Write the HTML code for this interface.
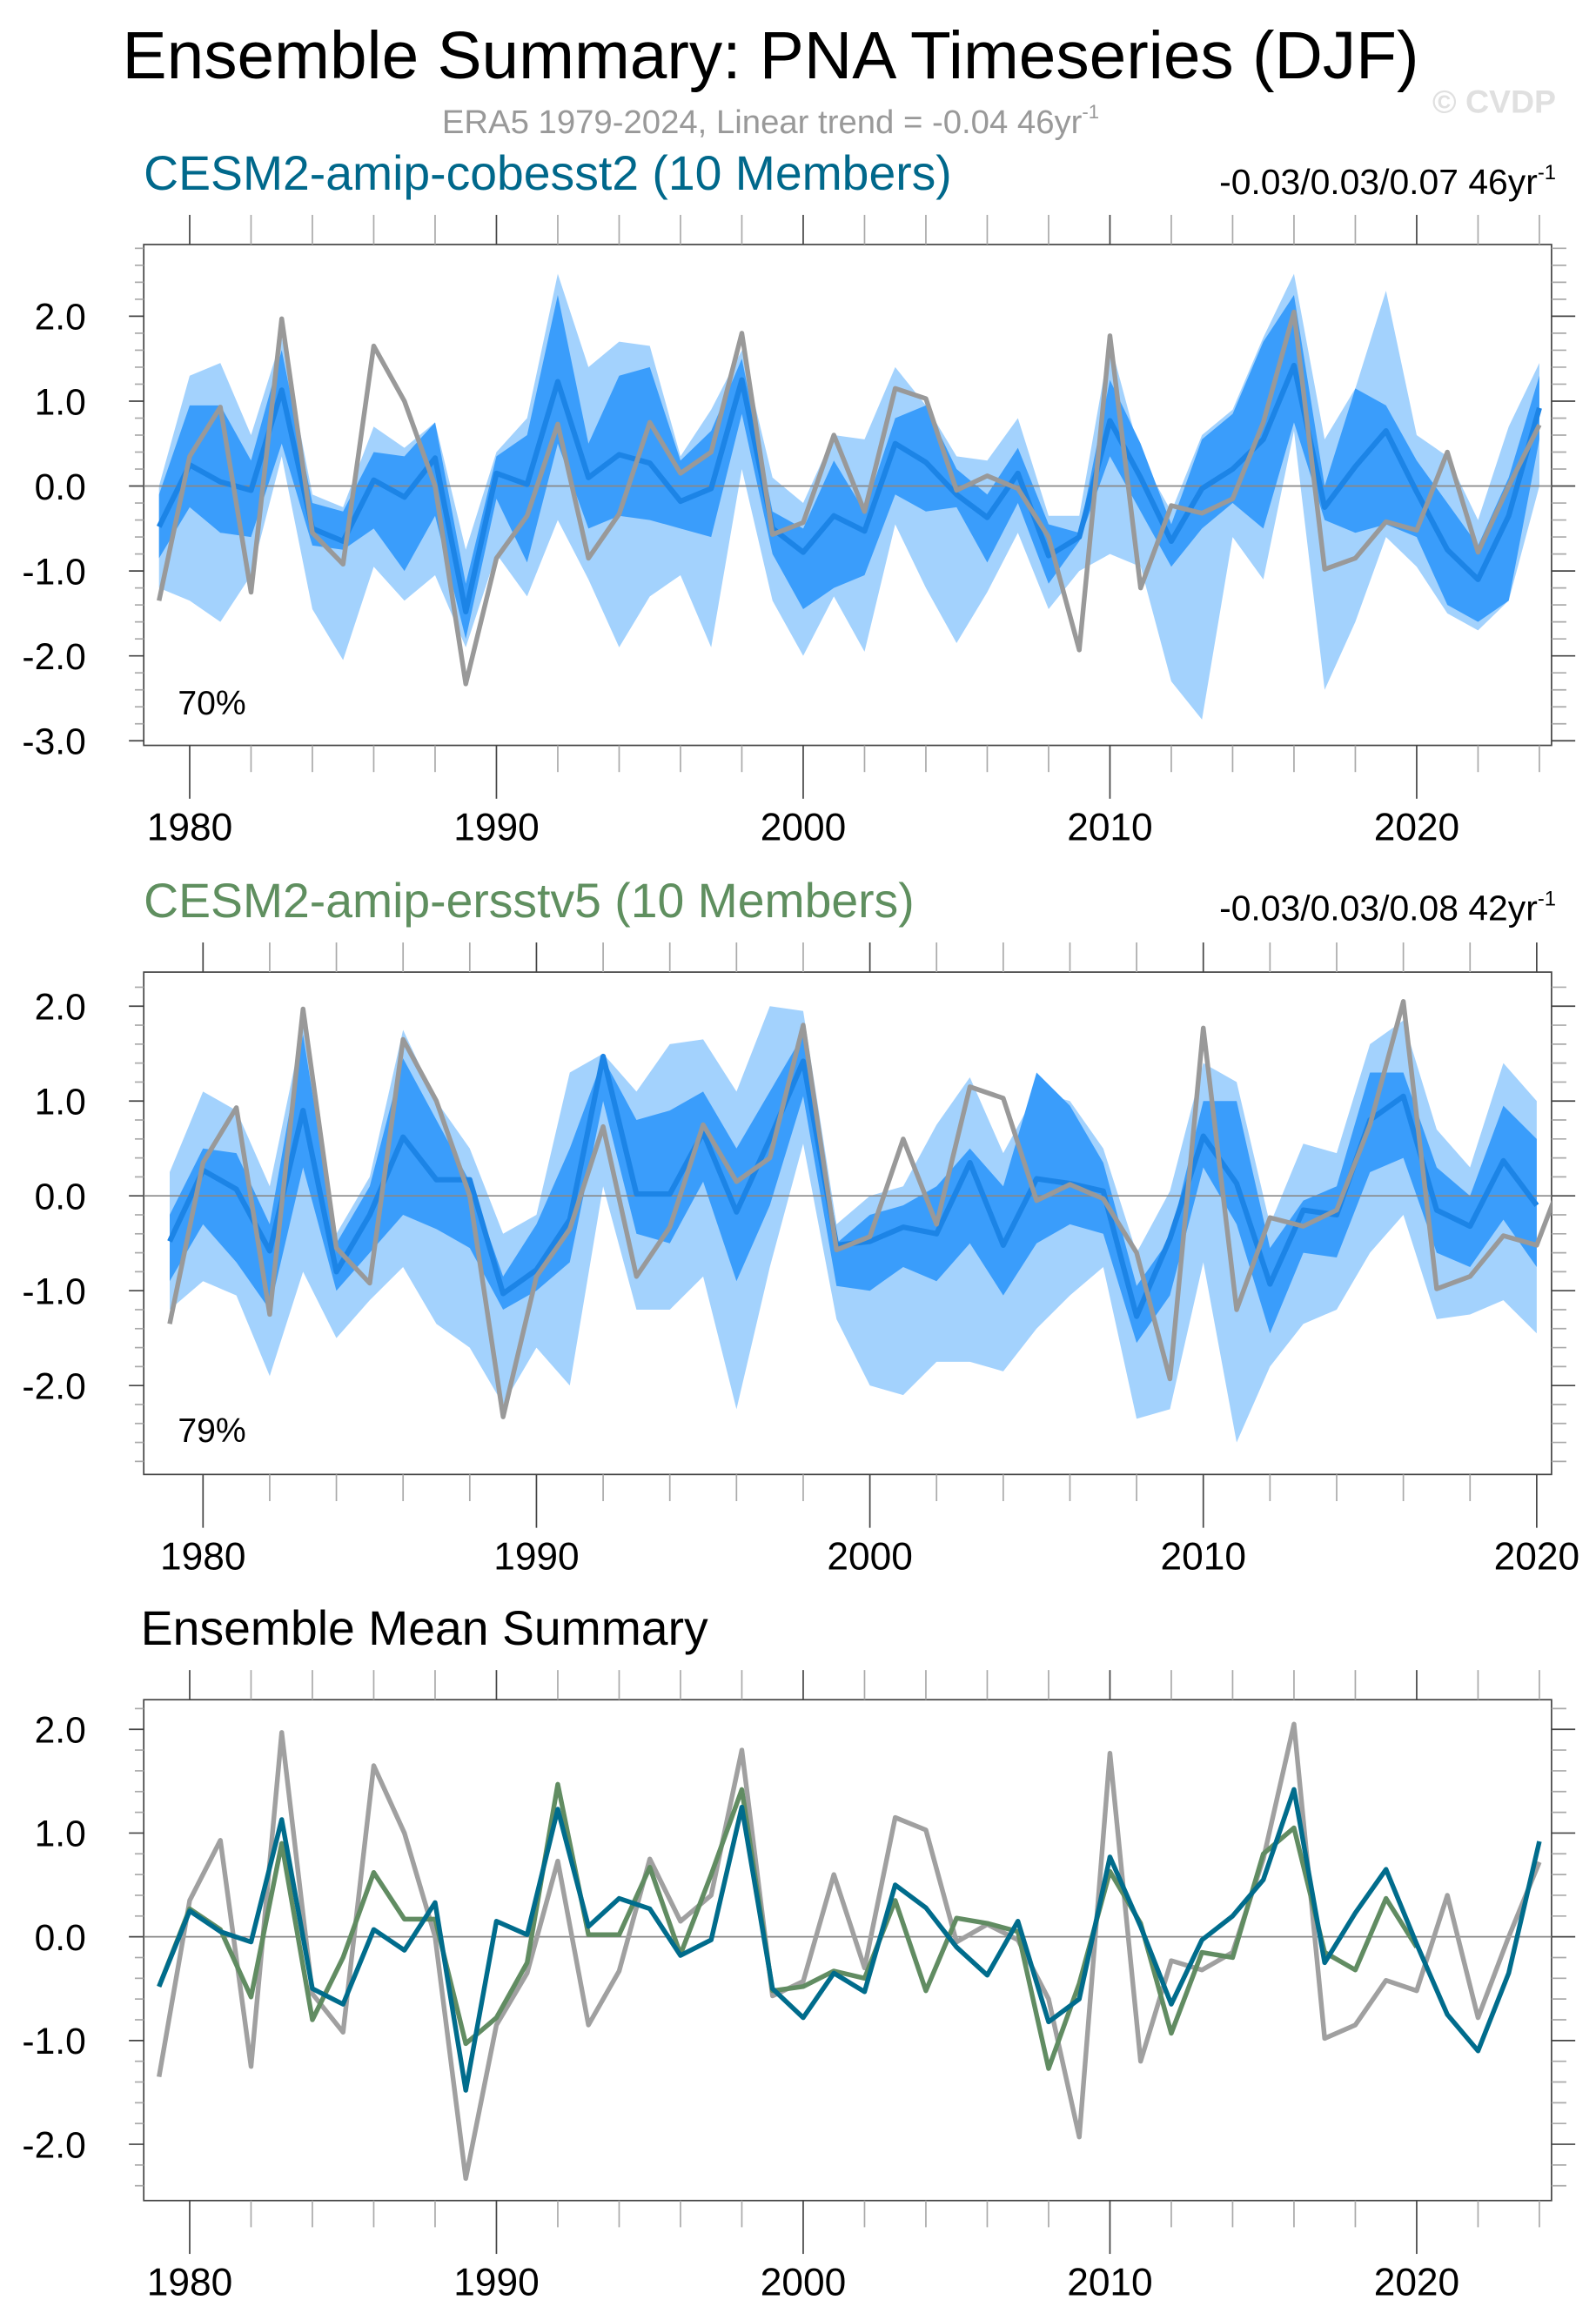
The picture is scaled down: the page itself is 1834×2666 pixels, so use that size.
<!DOCTYPE html>
<html><head><meta charset="utf-8">
<style>
html,body{margin:0;padding:0;background:#fff;}
svg{display:block;font-family:"Liberation Sans",sans-serif;}
</style></head>
<body>
<svg id="fig" width="1834" height="2666" viewBox="0 0 1077 1565.6" xmlns="http://www.w3.org/2000/svg">
<text x="520" y="53" font-size="45" text-anchor="middle" fill="#000">Ensemble Summary: PNA Timeseries (DJF)</text>
<text x="520" y="90" font-size="22.5" text-anchor="middle" fill="#999">ERA5 1979-2024, Linear trend = -0.04 46yr<tspan dy="-10" font-size="13">-1</tspan></text>
<text x="1050" y="76" font-size="22" font-weight="bold" text-anchor="end" fill="#e0e0e0">© CVDP</text>
<text x="97" y="128" font-size="32.5" fill="#00688b">CESM2-amip-cobesst2 (10 Members)</text>
<text x="1050" y="131" font-size="24" text-anchor="end" fill="#000">-0.03/0.03/0.07 46yr<tspan dy="-10" font-size="14">-1</tspan></text>
<text x="97" y="619" font-size="32.5" fill="#5f8f5f">CESM2-amip-ersstv5 (10 Members)</text>
<text x="1050" y="621" font-size="24" text-anchor="end" fill="#000">-0.03/0.03/0.08 42yr<tspan dy="-10" font-size="14">-1</tspan></text>
<text x="95" y="1110" font-size="32.5" fill="#000">Ensemble Mean Summary</text>
<g id="plots"></g>
</svg>
<script>
const yearsA = []; for (let y = 1979; y <= 2024; y++) yearsA.push(y);
const yearsB = []; for (let y = 1979; y <= 2020; y++) yearsB.push(y);
const era5 = [-1.35,0.35,0.93,-1.25,1.97,-0.55,-0.92,1.65,1.0,0.0,-2.33,-0.85,-0.35,0.73,-0.85,-0.33,0.75,0.15,0.4,1.8,-0.57,-0.43,0.6,-0.3,1.15,1.03,-0.05,0.12,-0.03,-0.6,-1.93,1.77,-1.2,-0.23,-0.32,-0.15,0.75,2.05,-0.98,-0.85,-0.42,-0.52,0.4,-0.78,0.0,0.72];
const meanA = [-0.48,0.25,0.05,-0.05,1.13,-0.5,-0.65,0.07,-0.13,0.33,-1.48,0.15,0.02,1.23,0.1,0.37,0.27,-0.18,-0.03,1.25,-0.5,-0.78,-0.35,-0.53,0.5,0.28,-0.1,-0.37,0.15,-0.82,-0.6,0.77,0.1,-0.65,-0.03,0.2,0.55,1.42,-0.25,0.23,0.65,-0.07,-0.75,-1.1,-0.35,0.92];
const maxA = [0.0,1.3,1.45,0.6,1.75,-0.1,-0.25,0.7,0.45,0.75,-0.75,0.4,0.8,2.5,1.4,1.7,1.65,0.35,0.9,1.6,0.1,-0.2,0.6,0.55,1.4,0.95,0.35,0.3,0.8,-0.35,-0.35,1.7,0.35,-0.3,0.6,0.9,1.75,2.5,0.55,1.15,2.3,0.6,0.35,-0.4,0.7,1.45];
const minA = [-1.2,-1.35,-1.6,-1.05,0.35,-1.45,-2.05,-0.95,-1.35,-1.05,-1.9,-0.8,-1.3,-0.4,-1.1,-1.9,-1.3,-1.05,-1.9,0.2,-1.35,-2.0,-1.3,-1.95,-0.45,-1.2,-1.85,-1.25,-0.55,-1.45,-1.0,-0.8,-0.95,-2.3,-2.75,-0.6,-1.1,0.65,-2.4,-1.6,-0.6,-0.95,-1.5,-1.7,-1.35,0.0];
const q75A = [-0.1,0.95,0.95,0.3,1.6,-0.2,-0.3,0.4,0.35,0.75,-1.15,0.35,0.6,2.25,0.5,1.3,1.4,0.3,0.65,1.5,-0.3,-0.5,0.3,-0.3,0.8,0.95,0.2,-0.1,0.45,-0.45,-0.55,1.25,0.5,-0.45,0.55,0.85,1.7,2.25,0.0,1.15,0.95,0.3,-0.2,-0.7,0.1,1.3];
const q25A = [-0.85,-0.25,-0.55,-0.6,0.5,-0.7,-0.75,-0.5,-1.0,-0.35,-1.8,-0.15,-0.9,0.5,-0.5,-0.35,-0.4,-0.5,-0.6,0.85,-0.8,-1.45,-1.2,-1.05,-0.1,-0.3,-0.25,-0.9,-0.2,-1.15,-0.65,0.35,-0.3,-0.95,-0.5,-0.2,-0.5,0.75,-0.4,-0.55,-0.45,-0.6,-1.4,-1.6,-1.35,0.55];
const meanB = [-0.48,0.27,0.07,-0.58,0.9,-0.8,-0.2,0.62,0.17,0.17,-1.03,-0.78,-0.25,1.47,0.02,0.02,0.67,-0.17,0.6,1.42,-0.52,-0.48,-0.33,-0.4,0.35,-0.52,0.18,0.13,0.05,-1.27,-0.45,0.63,0.13,-0.93,-0.15,-0.2,0.8,1.05,-0.15,-0.32,0.37,-0.1];
const maxB = [0.25,1.1,0.9,0.1,1.8,-0.4,0.2,1.75,1.0,0.5,-0.4,-0.2,1.3,1.5,1.1,1.6,1.65,1.1,2.0,1.95,-0.3,0.0,0.1,0.75,1.25,0.45,1.1,1.0,0.5,-0.6,0.05,1.4,1.2,-0.3,0.55,0.45,1.6,1.85,0.7,0.3,1.4,1.0];
const minB = [-1.2,-0.9,-1.05,-1.9,-0.8,-1.5,-1.1,-0.75,-1.35,-1.6,-2.2,-1.6,-2.0,0.1,-1.2,-1.2,-0.85,-2.25,-0.75,0.55,-1.3,-2.0,-2.1,-1.75,-1.75,-1.85,-1.4,-1.05,-0.75,-2.35,-2.25,-0.7,-2.6,-1.8,-1.35,-1.2,-0.6,-0.2,-1.3,-1.25,-1.1,-1.45];
const q75B = [-0.2,0.5,0.45,-0.3,1.7,-0.5,0.1,1.45,0.8,0.15,-0.85,-0.3,0.5,1.45,0.8,0.9,1.1,0.5,1.1,1.7,-0.5,-0.2,-0.1,0.1,0.5,0.1,1.3,0.95,0.35,-0.95,-0.45,1.0,1.0,-0.55,-0.05,0.1,1.3,1.3,0.3,0.0,0.95,0.6];
const q25B = [-0.9,-0.3,-0.7,-1.2,0.3,-1.0,-0.6,-0.2,-0.35,-0.55,-1.2,-1.0,-0.7,1.0,-0.4,-0.5,0.15,-0.9,-0.1,1.05,-0.95,-1.0,-0.75,-0.9,-0.5,-1.05,-0.5,-0.3,-0.4,-1.55,-1.05,0.3,-0.3,-1.45,-0.6,-0.65,0.25,0.4,-0.6,-0.75,-0.25,-0.75];
const yTickLabelsA = ["-3.0","-2.0","-1.0","0.0","1.0","2.0"];
const yTickLabelsB = ["-2.0","-1.0","0.0","1.0","2.0"];
const xTickLabels = ["1980","1990","2000","2010","2020"];

const NS = "http://www.w3.org/2000/svg";
const root = document.getElementById('plots');
function mk(tag, attrs, parent) {
  const e = document.createElementNS(NS, tag);
  for (const k in attrs) e.setAttribute(k, attrs[k]);
  (parent || root).appendChild(e);
  return e;
}
const L = 97, R = 1047;

function panel(id, top, bot, y0px, perUnit, x1980, perYear, yMinTick, yMaxTick, yLabels) {
  const g = mk('g', {});
  
  
  const sx = y => x1980 + (y - 1980) * perYear;
  const sy = v => y0px - v * perUnit;
  const cid = id + '-clip';
  const cp = mk('clipPath', {id: cid}, g);
  mk('rect', {x: L, y: top, width: R - L, height: bot - top}, cp);
  const fig = {g, sx, sy, clip: 'url(#' + cid + ')'};
  const fr = mk('rect', {x: L, y: top, width: R - L, height: bot - top, fill: 'none', stroke: '#444', 'stroke-width': 1}, g);
  
  
  for (let i = Math.round(yMinTick * 5); i <= Math.round(yMaxTick * 5); i++) {
    const v = i / 5, yy = sy(v), major = (i % 5 === 0);
    mk('line', {x1: L - (major ? 10 : 6), x2: L, y1: yy, y2: yy, stroke: major ? '#444' : '#aaa', 'stroke-width': 1}, g);
    mk('line', {x1: R, x2: R + (major ? 16 : 10), y1: yy, y2: yy, stroke: major ? '#444' : '#aaa', 'stroke-width': 1}, g);
  }
  yLabels.forEach(s => {
    const t = mk('text', {x: 58, y: sy(parseFloat(s)) + 9, 'font-size': 25, 'text-anchor': 'end', fill: '#000'}, g);
    t.textContent = s;
    
    
  });
  for (let yr = 1978; yr <= 2026; yr += 2) {
    const xx = sx(yr);
    if (xx < L - 0.5 || xx > R + 0.5) continue;
    const major = yr % 10 === 0;
    mk('line', {x1: xx, x2: xx, y1: top, y2: top - 20, stroke: major ? '#444' : '#aaa', 'stroke-width': 1}, g);
    mk('line', {x1: xx, x2: xx, y1: bot, y2: bot + (major ? 36 : 18), stroke: major ? '#444' : '#aaa', 'stroke-width': 1}, g);
  }
  xTickLabels.forEach(s => {
    const t = mk('text', {x: sx(parseInt(s)), y: bot + 64, 'font-size': 26, 'text-anchor': 'middle', fill: '#000'}, g);
    t.textContent = s;
    
    
  });
  return fig;
}
function band(f, years, lo, hi, color, name) {
  let d = '';
  years.forEach((y, i) => { d += (i ? 'L' : 'M') + f.sx(y).toFixed(2) + ',' + f.sy(hi[i]).toFixed(2); });
  for (let i = years.length - 1; i >= 0; i--) d += 'L' + f.sx(years[i]).toFixed(2) + ',' + f.sy(lo[i]).toFixed(2);
  const p = mk('path', {d: d + 'Z', fill: color, stroke: 'none', 'clip-path': f.clip}, f.g);
  
  
}
function line(f, years, vals, color, w, name) {
  const pts = years.map((y, i) => f.sx(y).toFixed(2) + ',' + f.sy(vals[i]).toFixed(2)).join(' ');
  const p = mk('polyline', {points: pts, fill: 'none', stroke: color, 'stroke-width': w, 'stroke-linejoin': 'round', 'clip-path': f.clip}, f.g);
  
  
}
function zero(f) {
  const z = mk('line', {x1: L, x2: R, y1: f.sy(0), y2: f.sy(0), stroke: '#888', 'stroke-width': 1}, f.g);
  
  
}
function label(f, txt, y, name) {
  const t = mk('text', {x: 120, y: y, 'font-size': 23, fill: '#000'}, f.g);
  t.textContent = txt;
  
  
}
const LIGHT = '#a3d2fd', DARK = '#3a9dfb';
const p1 = panel('panel-cobesst2', 165, 503, 328, 57.3, 128, 20.7, -3.0, 2.8, yTickLabelsA);
band(p1, yearsA, minA, maxA, LIGHT, 'range-band-cobesst2');
band(p1, yearsA, q25A, q75A, DARK, 'iqr-band-cobesst2');
zero(p1);
line(p1, yearsA, meanA, '#1c84e6', 3.6, 'ensemble-mean-cobesst2');
line(p1, yearsA, era5, '#999', 3.2, 'era5-line-panel1');
label(p1, '70%', 482, 'percent-label-panel1');
const p2 = panel('panel-ersstv5', 656, 995, 807, 64, 137, 22.5, -2.8, 2.2, yTickLabelsB);
band(p2, yearsB, minB, maxB, LIGHT, 'range-band-ersstv5');
band(p2, yearsB, q25B, q75B, DARK, 'iqr-band-ersstv5');
zero(p2);
line(p2, yearsB, meanB, '#1c84e6', 3.6, 'ensemble-mean-ersstv5');
line(p2, yearsA, era5, '#999', 3.2, 'era5-line-panel2');
label(p2, '79%', 973, 'percent-label-panel2');
const p3 = panel('panel-ensemble-mean-summary', 1147, 1485, 1307, 70, 128, 20.7, -2.4, 2.2, yTickLabelsB);
zero(p3);
line(p3, yearsA, era5, '#a0a0a0', 3.2, 'era5-line-summary');
line(p3, yearsB, meanB, '#618c62', 3.2, 'ersstv5-mean-summary');
line(p3, yearsA, meanA, '#006c8c', 3.2, 'cobesst2-mean-summary');
</script>
</body></html>
